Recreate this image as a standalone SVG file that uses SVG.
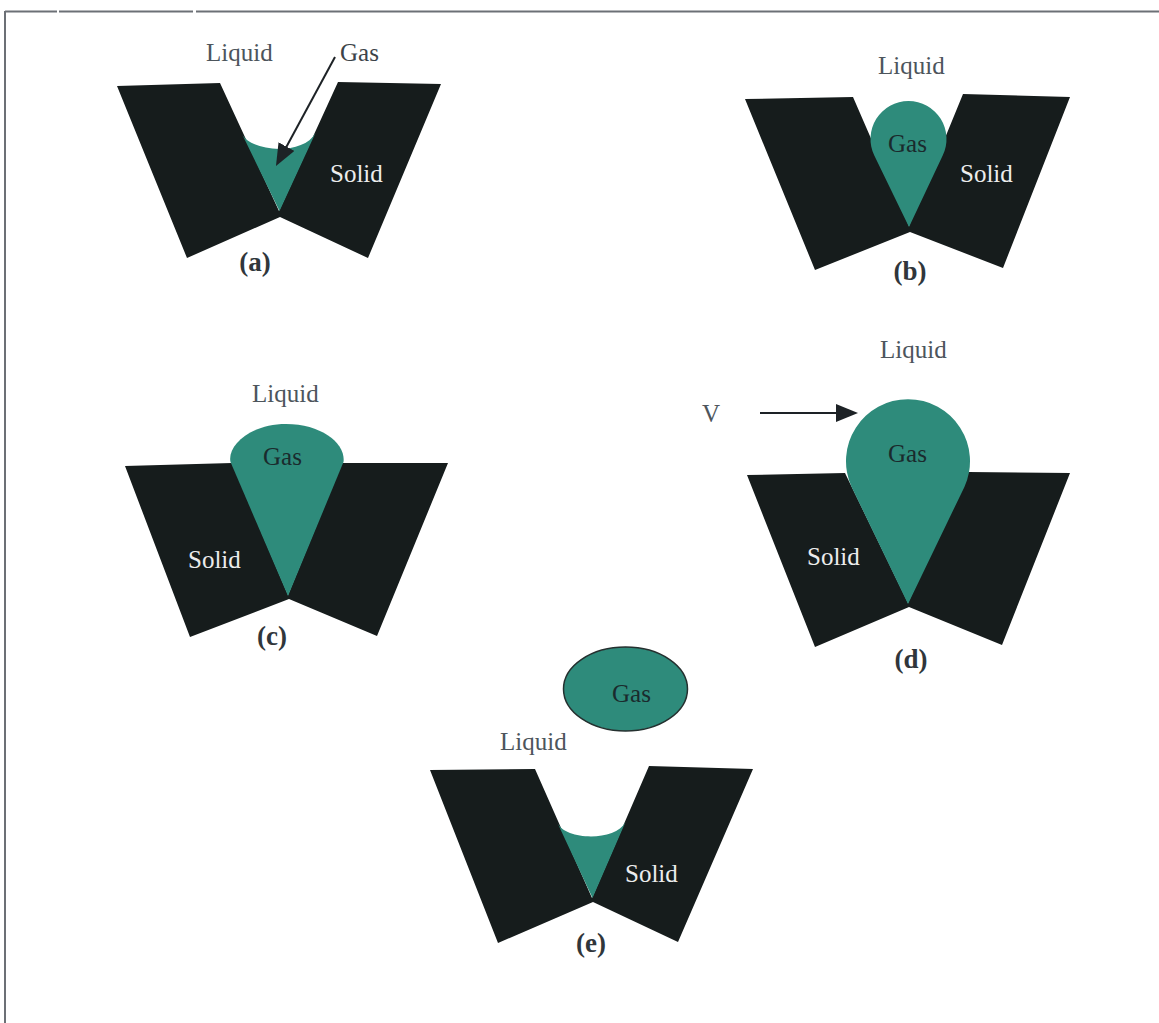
<svg xmlns="http://www.w3.org/2000/svg" width="1159" height="1023" viewBox="0 0 1159 1023">
  <defs>
    <marker id="head" viewBox="0 0 22 18" refX="2" refY="9" markerWidth="22" markerHeight="18" orient="auto" markerUnits="userSpaceOnUse">
      <path d="M0,0 L22,9 L0,18 Z" fill="#1d2226"/>
    </marker>
  </defs>
  <style>
    .solid { fill: #161c1c; }
    .gas { fill: #2e8b7b; }
    .bubble { fill: #2e8b7b; stroke: #24302f; stroke-width: 1.5; }
    text { font-family: "Liberation Serif", "Times New Roman", serif; font-size: 25px; }
    .liq { fill: #4d555c; }
    .gasout { fill: #3c4349; }
    .gasin { fill: #1a2a2d; }
    .sol { fill: #ececec; }
    .cap { fill: #30363b; font-weight: bold; font-size: 27px; text-anchor: middle; }
    .frame { stroke: #6c7076; stroke-width: 2; fill: none; }
    .arrow { stroke: #1d2226; stroke-width: 2; fill: none; marker-end: url(#head); }
  </style>

  <rect width="1159" height="1023" fill="#ffffff"/>

  <!-- page frame -->
  <g id="frame">
    <path class="frame" d="M5,11.5 H57 M59,11.5 H193 M196,11.5 H1159"/>
    <path class="frame" d="M5,11 V1023" stroke="#7d828a"/>
  </g>

  <!-- (a) gas trapped in the groove -->
  <g id="panel-a">
    <path class="solid" d="M117,86 L220,83 L279,211 L338,82 L441,84 L368,258 L280,217 L187,258 Z"/>
    <path class="gas" d="M242,134 C251,152 303,156 315.5,133 L279.5,211 Z"/>
    <text class="liq" x="206" y="61">Liquid</text>
    <text class="gasout" x="340" y="61">Gas</text>
    <text class="sol" x="330" y="182">Solid</text>
    <text class="cap" x="255" y="271">(a)</text>
  </g>

  <!-- (b) bubble growing out of the groove -->
  <g id="panel-b">
    <path class="solid" d="M745,99 L853,97 L909,226 L963,94 L1070,97 L1003,268 L910,232 L815,270 Z"/>
    <path class="gas" d="M909,227 L874.3,155.6 A38,38 0 1 1 942.7,155.6 Z"/>
    <text class="liq" x="878" y="74">Liquid</text>
    <text class="gasin" x="888" y="152">Gas</text>
    <text class="sol" x="960" y="182">Solid</text>
    <text class="cap" x="910" y="280">(b)</text>
  </g>

  <!-- (c) bubble filling the mouth -->
  <g id="panel-c">
    <path class="solid" d="M125,466 L232,463 L288,595 L342,463 L448,463 L377,636 L289,599 L190,637 Z"/>
    <path class="gas" d="M288,596 L230.5,462 C227,446 250,424 286,424 C322,424 346,444 343.5,462 Z"/>
    <text class="liq" x="252" y="402">Liquid</text>
    <text class="gasin" x="263" y="465">Gas</text>
    <text class="sol" x="188" y="568">Solid</text>
    <text class="cap" x="272" y="645">(c)</text>
  </g>

  <!-- (d) bubble standing in the flow -->
  <g id="panel-d">
    <path class="solid" d="M747,475 L845,473 L908,603 L968,472 L1070,473 L1002,645 L909,607 L815,647 Z"/>
    <path class="gas" d="M908,604 L851.6,486.9 A62,62 0 1 1 964.4,486.9 Z"/>
    <text class="liq" x="702" y="422">V</text>
    <text class="liq" x="880" y="358">Liquid</text>
    <text class="gasin" x="888" y="462">Gas</text>
    <text class="sol" x="807" y="565">Solid</text>
    <text class="cap" x="911" y="668">(d)</text>
  </g>

  <!-- (e) bubble detached, gas left behind -->
  <g id="panel-e">
    <ellipse class="bubble" cx="625.5" cy="689" rx="62" ry="42"/>
    <path class="solid" d="M430,770 L535,769 L592,898 L649,766 L753,769 L678,942 L593,902 L498,943 Z"/>
    <path class="gas" d="M557.5,823 C565,840 615,842 625.5,822 L592.5,898 Z"/>
    <text class="gasin" x="612" y="702">Gas</text>
    <text class="liq" x="500" y="750">Liquid</text>
    <text class="sol" x="625" y="882">Solid</text>
    <text class="cap" x="591" y="952">(e)</text>
  </g>

  <!-- connectors -->
  <g id="connectors">
    <path class="arrow" d="M335,57 L285.5,148.4"/>
    <path class="arrow" d="M760,413 L838,413"/>
  </g>
</svg>
